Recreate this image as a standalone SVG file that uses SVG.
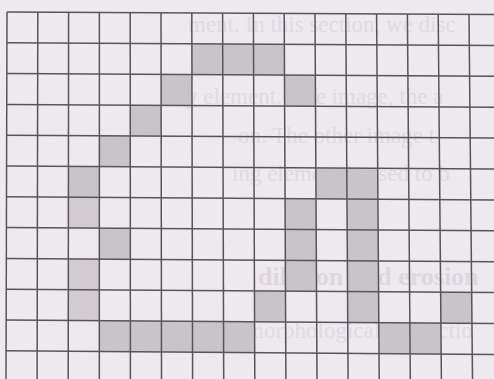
<svg xmlns="http://www.w3.org/2000/svg" width="494" height="379" viewBox="0 0 494 379">
<style>
.bg{fill:#eee8ef}
.txt{font-family:"Liberation Serif","DejaVu Serif",serif;font-size:23px;fill:#e0d9e1}
.hd{font-family:"Liberation Serif","DejaVu Serif",serif;font-size:26px;font-weight:bold;fill:#ddd6de}
.c{fill:#c9c4c9}
.cl{fill:#d2ccd2}
.g line{stroke:#58545c;stroke-width:1.5}
</style>
<rect class="bg" x="0" y="0" width="494" height="379"/>
<g id="showthrough-text">
<text class="txt" x="188" y="32">ment. In this section, we disc</text>
<text class="txt" x="186" y="104">y element. One image, the a</text>
<text class="txt" x="238" y="143">on. The other image t</text>
<text class="txt" x="232" y="181">ing element is used to b</text>
<text class="hd" x="258" y="285">dilation and erosion</text>
<text class="txt" x="246" y="338">morphological instructio</text>
</g>
<g id="cells">
<polygon class="c" points="191.87,43.79 284.34,44.28 284.49,75.14 191.93,74.62"/>
<polygon class="c" points="161.08,74.45 191.93,74.62 192.0,105.46 161.13,105.29"/>
<polygon class="c" points="284.49,75.14 315.34,75.31 315.5,106.17 284.63,105.99"/>
<polygon class="c" points="130.25,105.11 161.13,105.29 161.17,136.12 130.27,135.93"/>
<polygon class="c" points="99.37,135.75 130.27,135.93 130.28,166.76 99.36,166.57"/>
<polygon class="c" points="68.43,166.38 99.36,166.57 99.35,197.39 68.40,197.19"/>
<polygon class="c" points="315.84,167.9 377.69,168.28 377.91,199.15 316.01,198.76"/>
<polygon class="cl" points="68.40,197.19 99.35,197.39 99.34,228.21 68.36,228.0"/>
<polygon class="c" points="285.06,198.56 316.01,198.76 316.51,291.35 285.49,291.14"/>
<polygon class="c" points="346.96,198.96 377.91,199.15 378.78,322.66 347.73,322.44"/>
<polygon class="c" points="99.34,228.21 130.32,228.41 130.33,259.23 99.33,259.03"/>
<polygon class="cl" points="68.33,258.82 99.33,259.03 99.32,320.66 68.26,320.44"/>
<polygon class="c" points="254.46,290.92 285.49,291.14 285.63,321.99 254.58,321.77"/>
<polygon class="c" points="440.62,292.21 471.65,292.43 471.94,323.32 440.89,323.1"/>
<polygon class="c" points="99.32,320.66 254.58,321.77 254.69,352.62 99.31,351.48"/>
<polygon class="c" points="378.78,322.66 440.89,323.1 441.16,353.99 379.0,353.53"/>
</g>
<g id="grid" class="g">
<line x1="7" y1="12" x2="6" y2="379"/>
<line x1="37.8" y1="12.2" x2="37.1" y2="379"/>
<line x1="68.6" y1="12.3" x2="68.2" y2="379"/>
<line x1="99.4" y1="12.5" x2="99.3" y2="379"/>
<line x1="130.2" y1="12.6" x2="130.4" y2="379"/>
<line x1="161" y1="12.8" x2="161.5" y2="379"/>
<line x1="191.8" y1="12.9" x2="192.6" y2="379"/>
<line x1="222.6" y1="13.1" x2="223.7" y2="379"/>
<line x1="253.4" y1="13.3" x2="254.8" y2="379"/>
<line x1="284.2" y1="13.4" x2="285.9" y2="379"/>
<line x1="315" y1="13.6" x2="317" y2="379"/>
<line x1="345.8" y1="13.7" x2="348.1" y2="379"/>
<line x1="376.6" y1="13.9" x2="379.2" y2="379"/>
<line x1="407.4" y1="14.1" x2="410.3" y2="379"/>
<line x1="438.2" y1="14.2" x2="441.4" y2="379"/>
<line x1="469" y1="14.4" x2="472.5" y2="379"/>
<line x1="7" y1="12" x2="494" y2="14.5"/>
<line x1="6.9" y1="42.8" x2="494" y2="45.4"/>
<line x1="6.8" y1="73.6" x2="494" y2="76.3"/>
<line x1="6.7" y1="104.4" x2="494" y2="107.2"/>
<line x1="6.7" y1="135.2" x2="494" y2="138.1"/>
<line x1="6.6" y1="166" x2="494" y2="169"/>
<line x1="6.5" y1="196.8" x2="494" y2="199.9"/>
<line x1="6.4" y1="227.6" x2="494" y2="230.8"/>
<line x1="6.3" y1="258.4" x2="494" y2="261.7"/>
<line x1="6.2" y1="289.2" x2="494" y2="292.6"/>
<line x1="6.2" y1="320" x2="494" y2="323.5"/>
<line x1="6.1" y1="350.8" x2="494" y2="354.4"/>
</g>
</svg>
